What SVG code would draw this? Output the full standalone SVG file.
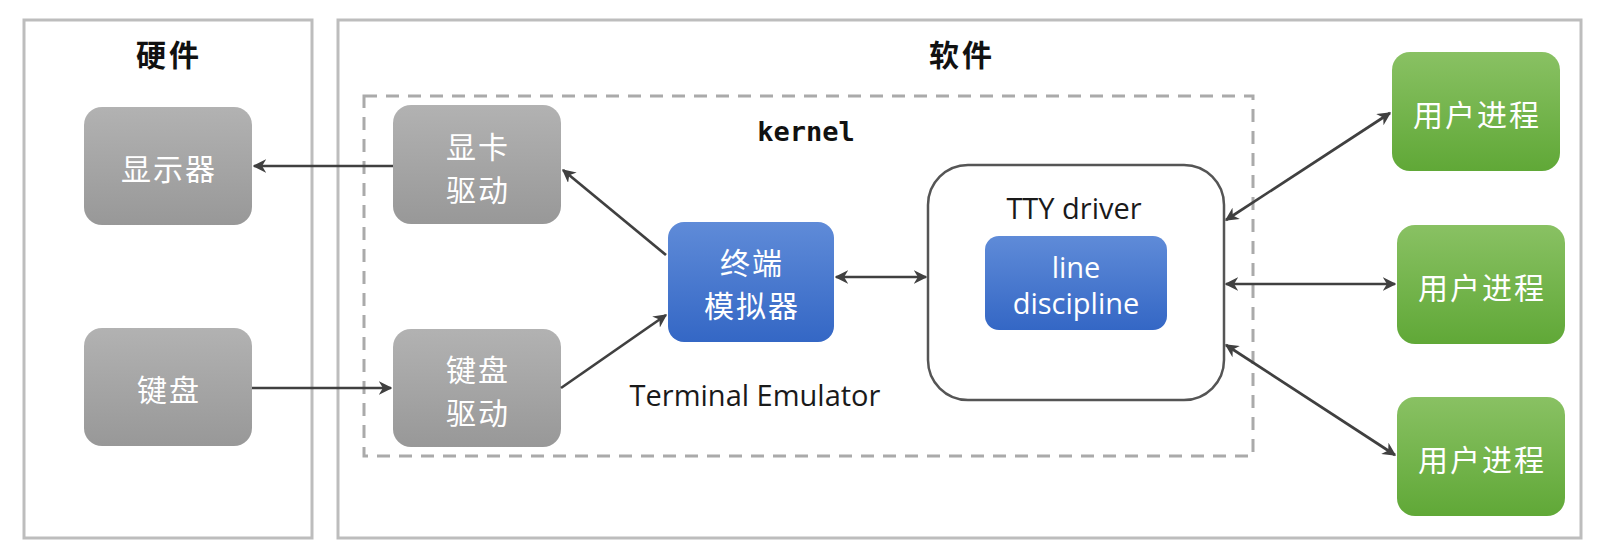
<svg xmlns="http://www.w3.org/2000/svg" width="1600" height="559" viewBox="0 0 1600 559">
<defs>
<linearGradient id="gGray" x1="0" y1="0" x2="0" y2="1"><stop offset="0" stop-color="#b2b2b2"/><stop offset="1" stop-color="#989898"/></linearGradient>
<linearGradient id="gBlue" x1="0" y1="0" x2="0" y2="1"><stop offset="0" stop-color="#5f8bd8"/><stop offset="1" stop-color="#3467c5"/></linearGradient>
<linearGradient id="gGreen" x1="0" y1="0" x2="0" y2="1"><stop offset="0" stop-color="#89c163"/><stop offset="1" stop-color="#60a837"/></linearGradient>
<marker id="ah" viewBox="0 0 10 10" refX="9" refY="5" markerWidth="5" markerHeight="5" orient="auto-start-reverse"><path d="M0,0 L10,5 L0,10 L3,5 z" fill="#404040"/></marker>
<style>
.frame{fill:#fff;stroke:#bdbdbd;stroke-width:3}
.dash{fill:none;stroke:#aaaaaa;stroke-width:3;stroke-dasharray:13 9}
.gray{fill:url(#gGray)}
.blue{fill:url(#gBlue)}
.green{fill:url(#gGreen)}
.cn{font-family:"Noto Sans CJK SC","Noto Sans",sans-serif;font-size:30px;letter-spacing:2px;fill:#fff;text-anchor:middle;dominant-baseline:central}
.title{font-family:"Noto Sans CJK SC","Noto Sans",sans-serif;font-size:30px;font-weight:bold;letter-spacing:3px;fill:#111;text-anchor:middle;dominant-baseline:central}
.en{font-family:"Open Sans","Noto Sans",sans-serif;font-size:29px;fill:#1a1a1a;text-anchor:middle;dominant-baseline:central}
.enw{font-family:"Open Sans","Noto Sans",sans-serif;font-size:29px;fill:#fff;text-anchor:middle;dominant-baseline:central}
.mono{font-family:"DejaVu Sans Mono",monospace;font-size:27px;font-weight:bold;fill:#111;text-anchor:middle;dominant-baseline:central}
.conn{stroke:#404040;stroke-width:2.7;fill:none}
</style>
</defs>
<rect width="1600" height="559" fill="#fff"/>
<g id="hardware">
<rect class="frame" x="24" y="20" width="288" height="518"/>
<text class="title" x="169" y="53">硬件</text>
</g>
<g id="software">
<rect class="frame" x="338" y="20" width="1243" height="518"/>
<text class="title" x="962" y="53">软件</text>
</g>
<g id="kernel">
<rect class="dash" x="364" y="96" width="889" height="360"/>
<text class="mono" x="806" y="131">kernel</text>
</g>
<g id="display">
<rect class="gray" x="84" y="107" width="168" height="118" rx="18"/>
<text class="cn" x="169" y="167">显示器</text>
</g>
<g id="keyboard">
<rect class="gray" x="84" y="328" width="168" height="118" rx="18"/>
<text class="cn" x="169" y="388">键盘</text>
</g>
<g id="gpu-driver">
<rect class="gray" x="393" y="105" width="168" height="119" rx="18"/>
<text class="cn" x="478" y="145">显卡</text>
<text class="cn" x="478" y="188">驱动</text>
</g>
<g id="kbd-driver">
<rect class="gray" x="393" y="329" width="168" height="118" rx="18"/>
<text class="cn" x="478" y="368">键盘</text>
<text class="cn" x="478" y="411">驱动</text>
</g>
<g id="term-emu">
<rect class="blue" x="668" y="222" width="166" height="120" rx="16"/>
<text class="cn" x="752" y="261">终端</text>
<text class="cn" x="752" y="304">模拟器</text>
</g>
<text class="en" x="755" y="394">Terminal Emulator</text>
<g id="tty">
<rect x="928" y="165" width="296" height="235" rx="40" fill="#fff" stroke="#555" stroke-width="2.5"/>
<text class="en" x="1074" y="207" font-size="31">TTY driver</text>
</g>
<g id="line-disc">
<rect class="blue" x="985" y="236" width="182" height="94" rx="14"/>
<text class="enw" x="1076" y="266">line</text>
<text class="enw" x="1076" y="302">discipline</text>
</g>
<g id="proc1">
<rect class="green" x="1392" y="52" width="168" height="119" rx="18"/>
<text class="cn" x="1477" y="113">用户进程</text>
</g>
<g id="proc2">
<rect class="green" x="1397" y="225" width="168" height="119" rx="18"/>
<text class="cn" x="1482" y="286">用户进程</text>
</g>
<g id="proc3">
<rect class="green" x="1397" y="397" width="168" height="119" rx="18"/>
<text class="cn" x="1482" y="458">用户进程</text>
</g>
<g id="connectors">
<line class="conn" x1="393" y1="166" x2="254" y2="166" marker-end="url(#ah)"/>
<line class="conn" x1="252" y1="388" x2="391" y2="388" marker-end="url(#ah)"/>
<line class="conn" x1="666" y1="255" x2="563" y2="170" marker-end="url(#ah)"/>
<line class="conn" x1="561" y1="388" x2="666" y2="315" marker-end="url(#ah)"/>
<line class="conn" x1="836" y1="277" x2="926" y2="277" marker-start="url(#ah)" marker-end="url(#ah)"/>
<line class="conn" x1="1226" y1="220" x2="1390" y2="113" marker-start="url(#ah)" marker-end="url(#ah)"/>
<line class="conn" x1="1226" y1="284" x2="1395" y2="284" marker-start="url(#ah)" marker-end="url(#ah)"/>
<line class="conn" x1="1226" y1="345" x2="1395" y2="455" marker-start="url(#ah)" marker-end="url(#ah)"/>
</g>
</svg>
